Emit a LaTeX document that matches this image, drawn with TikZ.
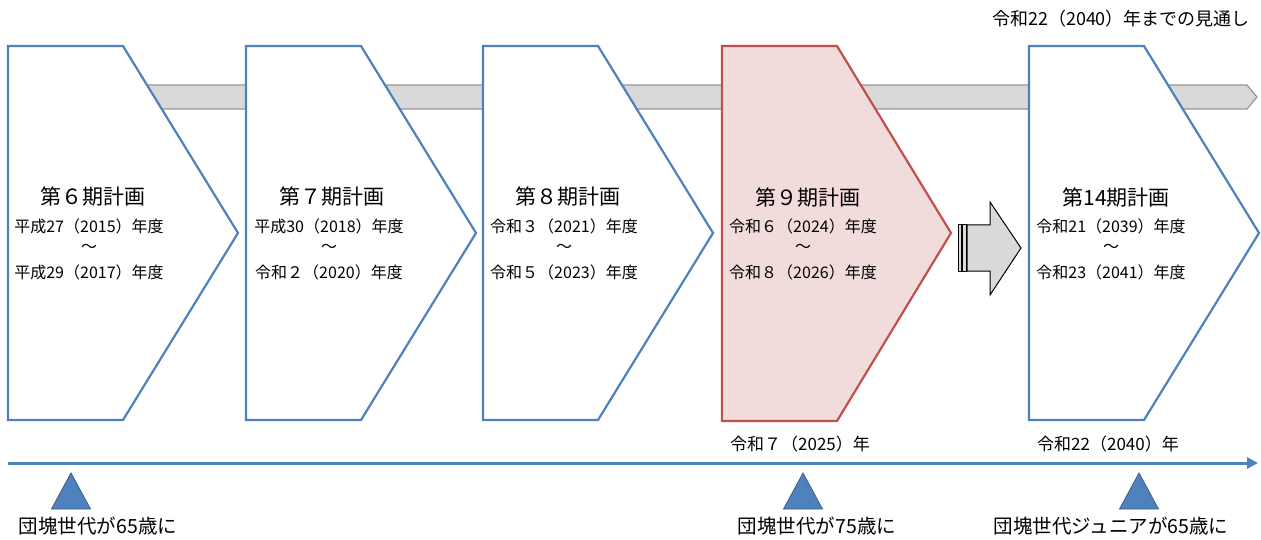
\documentclass[tikz,border=0pt]{standalone}
\usepackage{fontspec}
\setmainfont{Noto Sans CJK JP}
\usetikzlibrary{arrows.meta}
\definecolor{oblue}{HTML}{4F81BD}
\definecolor{oblued}{HTML}{385D8A}
\definecolor{ored}{HTML}{C0504D}
\definecolor{opink}{HTML}{F2DCDB}
\definecolor{ogray}{HTML}{D9D9D9}
\definecolor{ograyd}{HTML}{969696}
\tikzset{
  pent/.style={draw=oblue, line width=2.2pt, fill=white, line join=miter},
  pentred/.style={draw=ored, line width=2.2pt, fill=opink, line join=miter},
  ttl/.style={font=\fontsize{21}{21}\selectfont, inner sep=0pt},
  sub/.style={font=\fontsize{16}{16}\selectfont, inner sep=0pt},
  lbl/.style={font=\fontsize{17}{17}\selectfont, inner sep=0pt},
  blbl/.style={font=\fontsize{19.5}{19.5}\selectfont, inner sep=0pt},
  tri/.style={fill=oblue, draw=oblued, line width=0.8pt},
  band/.style={fill=ogray, draw=ograyd, line width=1.2pt},
  bigarrow/.style={fill=ogray, draw=black, line width=1pt}
}
\begin{document}
\begin{tikzpicture}[x=1pt,y=-1pt]
\useasboundingbox (0,0) rectangle (1261,540);
% gray band
\draw[band] (130,85) -- (1247,85) -- (1257,97) -- (1247,109) -- (130,109) -- cycle;
% pentagons
\foreach \L in {8,246,483,1029}{
  \draw[pent] (\L,46) -- (\L+115,46) -- (\L+230,233) -- (\L+115,420) -- (\L,420) -- cycle;
}
\draw[pentred] (722,46) -- (837,46) -- (951,233) -- (837,421) -- (722,421) -- cycle;
% texts in pentagons
\node[ttl] (t6) at (93,197) {第６期計画};
\node[sub] (a6) at (89,226) {平成27（2015）年度};
\node[sub] (w6) at (89,248) {～};
\node[sub] (b6) at (89,272) {平成29（2017）年度};
\node[ttl] (t7) at (332,197) {第７期計画};
\node[sub] (a7) at (329,226) {平成30（2018）年度};
\node[sub] (w7) at (329,248) {～};
\node[sub] (b7) at (329,272) {令和２（2020）年度};
\node[ttl] (t8) at (568,197) {第８期計画};
\node[sub] (a8) at (564,226) {令和３（2021）年度};
\node[sub] (w8) at (564,248) {～};
\node[sub] (b8) at (564,272) {令和５（2023）年度};
\node[ttl] (t9) at (808,198) {第９期計画};
\node[sub] (a9) at (803,226) {令和６（2024）年度};
\node[sub] (w9) at (803,248) {～};
\node[sub] (b9) at (803,272) {令和８（2026）年度};
\node[ttl] (t14) at (1116,198) {第14期計画};
\node[sub] (a14) at (1111,226) {令和21（2039）年度};
\node[sub] (w14) at (1111,248) {～};
\node[sub] (b14) at (1111,272) {令和23（2041）年度};
% big striped arrow
\draw[bigarrow] (958,225) rectangle (961,271);
\draw[bigarrow] (962,225) rectangle (966,271);
\draw[bigarrow] (967,225) -- (990,225) -- (990,202) -- (1021,248) -- (990,295) -- (990,271) -- (967,271) -- cycle;
% top-right label
\node[lbl, font=\fontsize{18}{18}\selectfont] (outlook) at (1121,19) {令和22（2040）年までの見通し};
% year labels
\node[lbl] (y2025) at (800,444) {令和７（2025）年};
\node[lbl] (y2040) at (1108,444) {令和22（2040）年};
% timeline
\coordinate (tl0) at (8,463);
\coordinate (tl1) at (1258,463);
\draw[draw=oblue, line width=3pt, -{Triangle[length=11pt,width=11pt]}] (tl0) -- (tl1);
% triangles
\foreach \cx in {71,803,1139}{
  \draw[tri] (\cx,473) -- (\cx+19.5,509) -- (\cx-19.5,509) -- cycle;
}
\node[blbl] (m1) at (98,526) {団塊世代が65歳に};
\node[blbl] (m2) at (817,526) {団塊世代が75歳に};
\node[blbl] (m3) at (1111,526) {団塊世代ジュニアが65歳に};
\end{tikzpicture}
\end{document}
